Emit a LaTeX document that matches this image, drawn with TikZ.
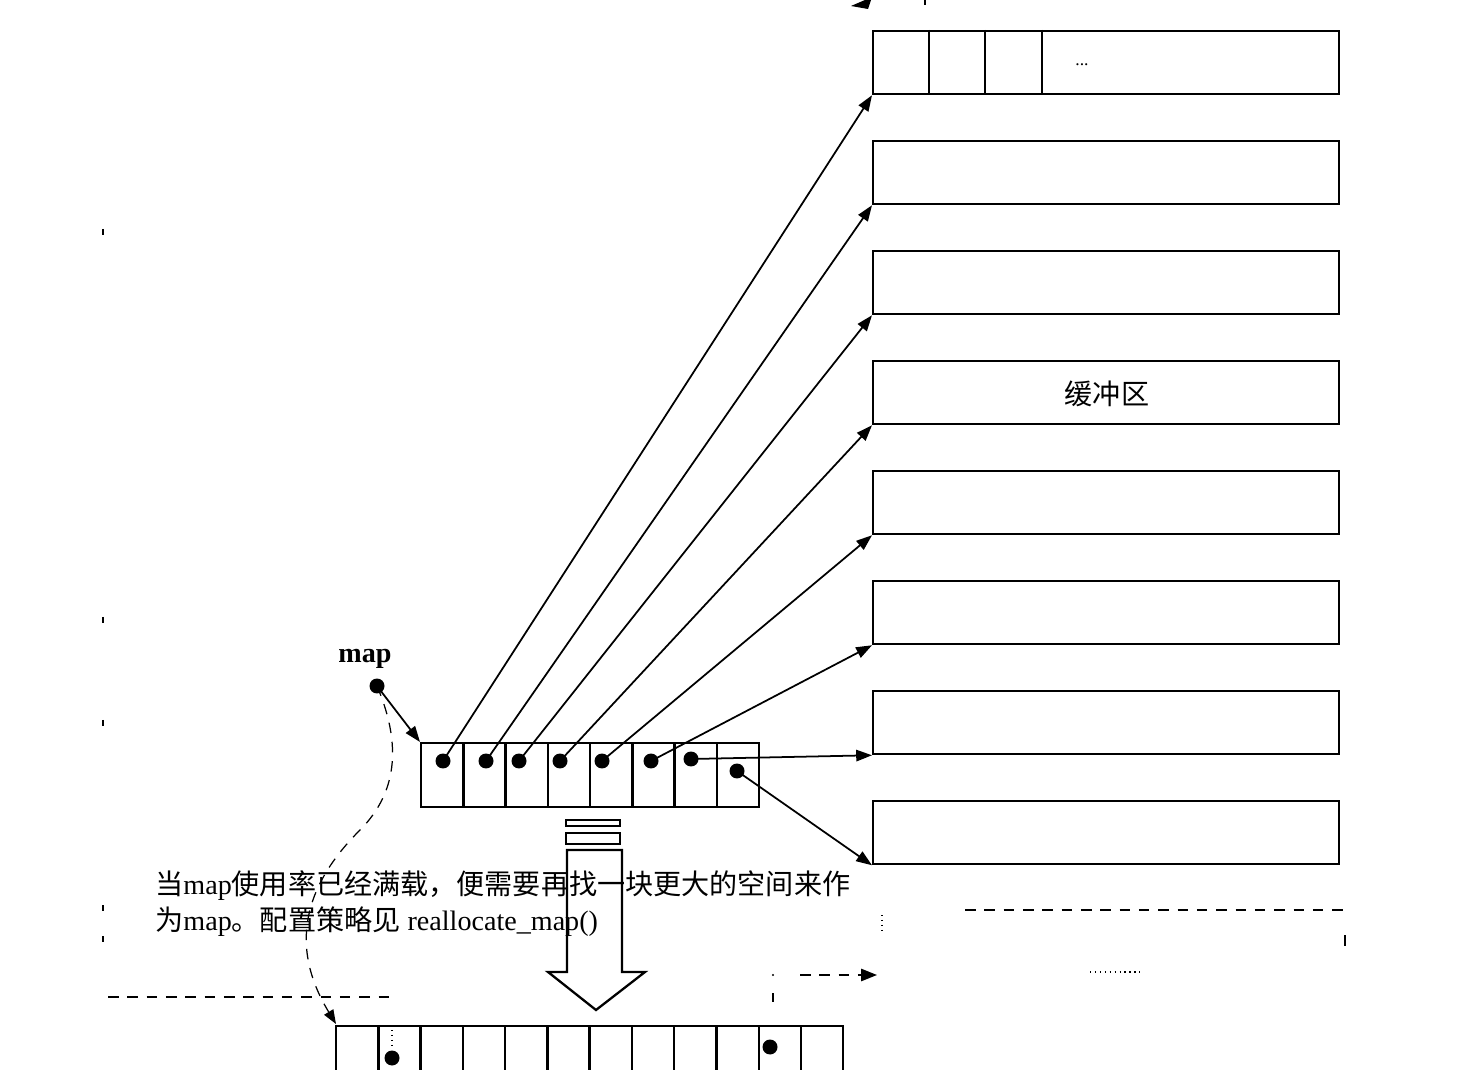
\documentclass[tikz,border=0pt]{standalone}
\usepackage{fontspec}
\setmainfont{Liberation Serif}
\newfontfamily\cjk{Noto Sans CJK SC}
\usetikzlibrary{arrows.meta}
\begin{document}
\begin{tikzpicture}[x=0.02cm,y=-0.02cm,
  buf/.style={draw, line width=1.3pt, minimum width=9.32cm, minimum height=1.26cm, inner sep=0pt, anchor=north west},
  cell/.style={draw, line width=1.3pt, minimum width=0.845cm, minimum height=1.28cm, inner sep=0pt, anchor=north west},
  bcell/.style={draw, line width=1.3pt, minimum width=0.845cm, minimum height=1.7cm, inner sep=0pt, anchor=north west},
  dot/.style={circle, fill, minimum size=0.3cm, inner sep=0pt},
  ptr/.style={line width=1pt, -{Triangle[length=9pt,width=6.5pt]}},
  remnant/.style={line width=0.8pt, dash pattern=on 6pt off 5pt},
  txt/.style={font=\fontsize{16pt}{20pt}\selectfont, inner sep=0pt}
]
\clip (0,0) rectangle (1481,1070);
\useasboundingbox (0,0) rectangle (1481,1070);

% buffers (right column)
\foreach \i in {0,...,7} {
  \node[buf] (b\i) at (872,{30+110*\i}) {};
}
\draw[line width=1.3pt] (929,30) -- (929,94) (985,30) -- (985,94) (1042,30) -- (1042,94);
\node[font=\fontsize{10pt}{10pt}\selectfont, inner sep=0pt] (dots) at (1082,65) {...};
\node[txt] (bufl) at (1107,394) {\cjk 缓冲区};

% top remnant arrowhead
\fill (851,6) -- (872,-3) -- (868,9) -- cycle;
\draw[line width=0.8pt] (925,0) -- (925,5);

% map array
\foreach \i in {1,...,8} {
  \node[cell] (m\i) at ({420+42.25*(\i-1)},742) {};
}
\node[dot] (d1) at (443,761) {};
\node[dot] (d2) at (486,761) {};
\node[dot] (d3) at (519,761) {};
\node[dot] (d4) at (560,761) {};
\node[dot] (d5) at (602,761) {};
\node[dot] (d6) at (651,761) {};
\node[dot] (d7) at (691,759) {};
\node[dot] (d8) at (737,771) {};

\draw[ptr] (d1.center) -- (b0.south west);
\draw[ptr] (d2.center) -- (b1.south west);
\draw[ptr] (d3.center) -- (b2.south west);
\draw[ptr] (d4.center) -- (b3.south west);
\draw[ptr] (d5.center) -- (b4.south west);
\draw[ptr] (d6.center) -- (b5.south west);
\draw[ptr] (d7.center) -- (b6.south west);
\draw[ptr] (d8.center) -- (b7.south west);

% map pointer
\node[font=\bfseries\fontsize{16pt}{16pt}\selectfont, inner sep=0pt] (maplabel) at (365,659) {map};
\node[dot] (mapdot) at (377,686) {};
\draw[ptr] (mapdot.center) -- (m1.north west);

% dashed pointer to the new map
\draw[remnant, line width=0.7pt, -{Triangle[length=8pt,width=6pt]}] (mapdot.center) .. controls (400,740) and (400,790) .. (360,830) .. controls (310,880) and (285,940) .. (336,1024);

% block arrow
\draw[line width=1.3pt, fill=white] (566,820) rectangle (620,826);
\draw[line width=1.3pt, fill=white] (566,833) rectangle (620,844);
\draw[line width=1.3pt, fill=white] (567,850) -- (622,850) -- (622,972) -- (645,972) -- (596,1010) -- (548,972) -- (567,972) -- cycle;

% explanation text
\node[txt, anchor=base west] (t1) at (155,894) {{\cjk 当}map{\cjk 使用率已经满载，便需要再找一块更大的空间来作}};
\node[txt, anchor=base west] (t2) at (155,930) {{\cjk 为}map{\cjk 。配置策略见} reallocate\_map()};

% new (bigger) map array
\foreach \i in {1,...,12} {
  \node[bcell] (n\i) at ({335+42.25*(\i-1)},1025) {};
}
\node[dot] (e1) at (392,1058) {};
\node[dot] (e2) at (770,1047) {};
\draw[line width=0.8pt, dotted] (392,1030) -- (392,1047);

% faint dashed remnants
\draw[remnant] (108,997) -- (392,997);
\draw[remnant] (965,910) -- (1345,910);
\draw[remnant] (1345,935) -- (1345,948);
\draw[line width=0.8pt, dotted] (882,915) -- (882,932);
\coordinate (ra) at (800,975);
\draw[remnant, -{Triangle[length=9pt,width=7pt]}] (ra) -- (b7.south west |- ra) -- ++(5,0);
\draw[line width=0.8pt, dotted] (1090,972) -- (1140,972);
\draw[line width=0.8pt] (773,993) -- (773,1002);
\fill (773,975) circle (1.2);
\foreach \y in {229,617,720,905,936} {
  \draw[line width=1pt] (103,\y) -- (103,{\y+6});
}
\end{tikzpicture}
\end{document}
